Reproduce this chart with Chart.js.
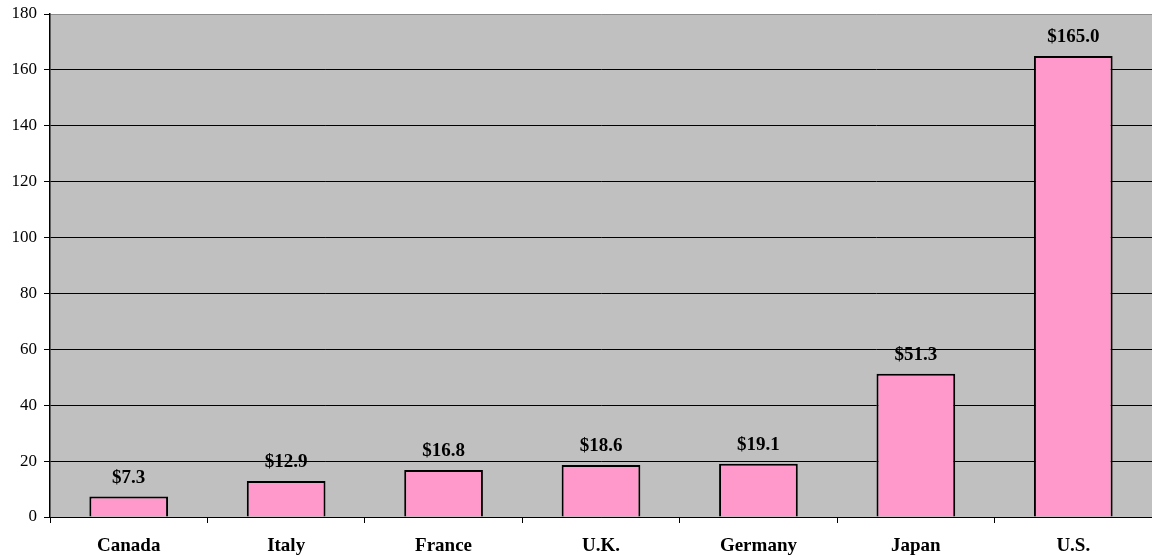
<!DOCTYPE html>
<html><head><meta charset="utf-8">
<script src="https://cdn.jsdelivr.net/npm/chart.js@4.4.0/dist/chart.umd.min.js"></script>
<style>html,body{margin:0;padding:0;background:#fff}#wrap{width:1152px;height:557px}</style>
</head><body><div id="wrap"><canvas id="c" width="1152" height="557"></canvas></div>
<script>
const categories = ["Canada","Italy","France","U.K.","Germany","Japan","U.S."];
const values = [7.3,12.9,16.8,18.6,19.1,51.3,165.0];
const valueLabels = ["$7.3","$12.9","$16.8","$18.6","$19.1","$51.3","$165.0"];
const yTicks = [0,20,40,60,80,100,120,140,160,180];

const bgPlugin = {
  id:'bg',
  beforeDraw(chart){
    const {ctx, chartArea:a} = chart;
    ctx.save();
    ctx.fillStyle = '#C0C0C0';
    ctx.fillRect(a.left, a.top, a.right-a.left, a.bottom-a.top);
    ctx.restore();
  },
  afterDatasetsDraw(chart){
    const {ctx} = chart;
    const meta = chart.getDatasetMeta(0);
    ctx.save();
    ctx.font = 'bold 19px "Liberation Serif", "Times New Roman", serif';
    ctx.fillStyle = '#000';
    ctx.textAlign = 'center';
    ctx.textBaseline = 'alphabetic';
    meta.data.forEach((bar,i)=>{
      ctx.fillText(valueLabels[i], bar.x, bar.y - 14);
    });
    ctx.restore();
  }
};

new Chart(document.getElementById('c'), {
  type:'bar',
  data:{labels:categories, datasets:[{data:values, backgroundColor:'#FF99CC', borderColor:'#000', borderWidth:2, categoryPercentage:1, barPercentage:0.5}]},
  options:{
    responsive:false, animation:false,
    layout:{padding:{top:14,right:0,left:0,bottom:0}},
    plugins:{legend:{display:false}, tooltip:{enabled:false}},
    scales:{
      x:{
        afterFit(s){ s.height = 40; s.paddingLeft = 0; s.paddingRight = 0; },
        grid:{offset:true, drawOnChartArea:false, drawTicks:true, tickLength:6, color:'#000'},
        border:{display:true, color:'#000', width:1},
        ticks:{color:'#000', font:{family:'"Liberation Serif", serif', size:19, weight:'bold'}, padding:12, maxRotation:0}
      },
      y:{
        min:0, max:180,
        afterFit(s){ s.width = 50; s.paddingTop = 0; s.paddingBottom = 0; },
        afterBuildTicks(axis){ axis.ticks = yTicks.map(v=>({value:v})); },
        grid:{color:(c)=> c.tick && c.tick.value===180 ? '#8c8c8c' : '#000', tickColor:'#000', tickLength:6, lineWidth:1},
        border:{display:true, color:'#000', width:1.5},
        ticks:{color:'#000', font:{family:'"Liberation Serif", serif', size:17}, padding:7}
      }
    }
  },
  plugins:[bgPlugin]
});
</script></body></html>
